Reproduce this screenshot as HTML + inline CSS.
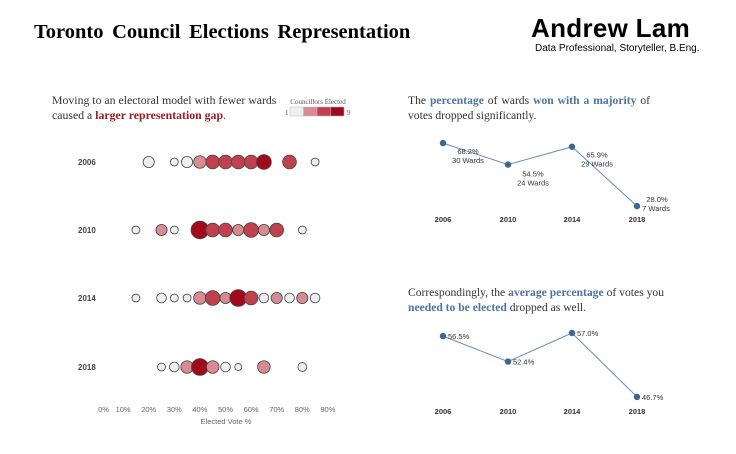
<!DOCTYPE html>
<html><head><meta charset="utf-8">
<style>
body{margin:0;width:736px;height:454px;background:#fff;overflow:hidden;position:relative;font-family:"Liberation Sans",sans-serif}
.serif{font-family:"Liberation Serif",serif}
.abs{position:absolute}
.blue{color:#4e74a0;font-weight:bold}
.red{color:#9a1a2a;font-weight:bold}
.jl{text-align:justify;text-align-last:justify}
</style></head><body>
<div class="abs serif" style="left:34px;top:21px;font-size:20.5px;font-weight:bold;word-spacing:3.5px">Toronto Council Elections Representation</div>
<div class="abs" style="left:531px;top:13px;font-size:26px;font-weight:bold;letter-spacing:0.3px">Andrew Lam</div>
<div class="abs" style="left:535px;top:43px;font-size:10px">Data Professional, Storyteller, B.Eng.</div>
<div class="abs serif" style="left:52px;top:93px;font-size:11.8px;line-height:15px;color:#333">Moving to an electoral model with fewer wards<br>caused a <span class="red">larger representation gap</span>.</div>
<div class="abs serif" style="left:408px;top:93px;font-size:11.6px;line-height:15px;color:#333;width:242px">
<div class="jl">The <span class="blue">percentage</span> of wards <span class="blue">won with a majority</span> of</div>
<div>votes dropped significantly.</div></div>
<div class="abs serif" style="left:408px;top:285px;font-size:11.6px;line-height:15px;color:#333;width:256px">
<div class="jl">Correspondingly, the <span class="blue">average percentage</span> of votes you</div>
<div><span class="blue">needed to be elected</span> dropped as well.</div></div>
<svg class="abs" style="left:0;top:0" width="736" height="454" id="svg"></svg>
<script>
const years=["2006","2010","2014","2018"];
const pct06=[20,30,35,40,45,50,55,60,65,75,85];
const size06=[4,2,4,5,6,6,6,6,7,6,2];
const col06=[1,1,1,3,5,5,5,5,9,5,1];
const pct10=[15,25,30,40,45,50,55,60,65,70,80];
const size10=[2,4,2,10,6,6,4,7,4,6,2];
const col10=[1,3,1,9,5,5,3,5,3,5,1];
const pct14=[15,25,30,35,40,45,50,55,60,65,70,75,80,85];
const size14=[2,3,2,2,5,7,4,9,6,3,4,3,4,3];
const col14=[1,1,1,1,3,5,3,9,5,1,3,1,3,1];
const pct18=[25,30,35,40,45,50,55,65,80];
const size18=[2,3,5,9,5,3,1.6,5,2.5];
const col18=[1,1,3,9,3,1,1,3,1];
const xTicks=[0,10,20,30,40,50,60,70,80,90];
const majPct=[68.2,54.5,65.9,28.0];
const majWards=[30,24,29,7];
const avgPct=[56.5,52.4,57.0,46.7];

const NS="http://www.w3.org/2000/svg";
const svg=document.getElementById('svg');
function mk(t,a,txt){const e=document.createElementNS(NS,t);for(const k in a)e.setAttribute(k,a[k]);if(txt!==undefined)e.textContent=txt;svg.appendChild(e);return e;}
const xs=p=>97.5+p*2.56;
const rs=n=>2.8*Math.sqrt(n);
function colr(c){return c>=9?'#a10a1a':c>=5?'#c0404e':c>=3?'#d98a92':'#efefef';}
const rowY=[162,230,298,367];
const sets=[[pct06,size06,col06],[pct10,size10,col10],[pct14,size14,col14],[pct18,size18,col18]];
sets.forEach((s,i)=>{
  const l=mk('text',{x:78,y:rowY[i]+3,'font-size':8,'font-weight':'bold',fill:'#444','font-family':'Liberation Sans'},years[i]);
  
  
  s[0].forEach((p,j)=>{
    const c=mk('circle',{cx:xs(p),cy:rowY[i],r:rs(s[1][j]),fill:colr(s[2][j]),stroke:'#444','stroke-width':0.8});
    
    
  });
});
xTicks.forEach(t=>{
  const e=mk('text',{x:xs(t)+(t===0?6:0),y:412,'font-size':7.5,fill:'#666','text-anchor':'middle','font-family':'Liberation Sans'},t+'%');
  
  
});
const xt=mk('text',{x:226,y:424,'font-size':7.5,fill:'#666','text-anchor':'middle','font-family':'Liberation Sans'},'Elected Vote %');


const lt=mk('text',{x:318,y:104,'font-size':7,fill:'#555','text-anchor':'middle','font-family':'Liberation Serif'},'Councillors Elected');


['#efefef','#d98a92','#c0404e','#a10a1a'].forEach((c,i)=>{
  const r=mk('rect',{x:290+i*13.5,y:107,width:13.5,height:9,fill:c,stroke:'#bbb','stroke-width':0.5});
  
  
});
mk('text',{x:285,y:115,'font-size':7,fill:'#555','font-family':'Liberation Serif'},'1');
mk('text',{x:347,y:115,'font-size':7,fill:'#555','font-family':'Liberation Serif'},'9');
const lx=[443,508,572,637];
function lineChart(vals,yf,ax,name,labels){
  years.forEach((y,i)=>{
    const t=mk('text',{x:lx[i],y:ax,'font-size':7.5,'font-weight':'bold',fill:'#333','text-anchor':'middle','font-family':'Liberation Sans'},y);
    
    
  });
  const pl=mk('polyline',{points:vals.map((v,i)=>lx[i]+','+yf(v)).join(' '),fill:'none',stroke:'#6b8db5','stroke-width':1});
  
  
  vals.forEach((v,i)=>{
    const c=mk('circle',{cx:lx[i],cy:yf(v),r:3.2,fill:'#3f6592'});
    
    
    labels(v,i);
  });
}
const y1=v=>250-1.567*v;
lineChart(majPct,y1,222,'majority',(v,i)=>{
  const off=[[25,11],[25,12],[25,11],[20,-4]][i];
  const a=mk('text',{x:lx[i]+off[0],y:y1(v)+off[1],'font-size':7.5,fill:'#333','text-anchor':'middle','font-family':'Liberation Sans'},v.toFixed(1)+'%');
  
  
  const b=mk('text',{x:lx[i]+off[0]-(i===3?1:0),y:y1(v)+off[1]+9,'font-size':7.5,fill:'#333','text-anchor':'middle','font-family':'Liberation Sans'},majWards[i]+' Wards');
  
  
});
const y2=v=>333+(57-v)*6.21;
lineChart(avgPct,y2,414,'average',(v,i)=>{
  const a=mk('text',{x:lx[i]+5,y:y2(v)+3,'font-size':7.5,fill:'#333','font-family':'Liberation Sans'},v.toFixed(1)+'%');
  
  
});
</script>
</body></html>
